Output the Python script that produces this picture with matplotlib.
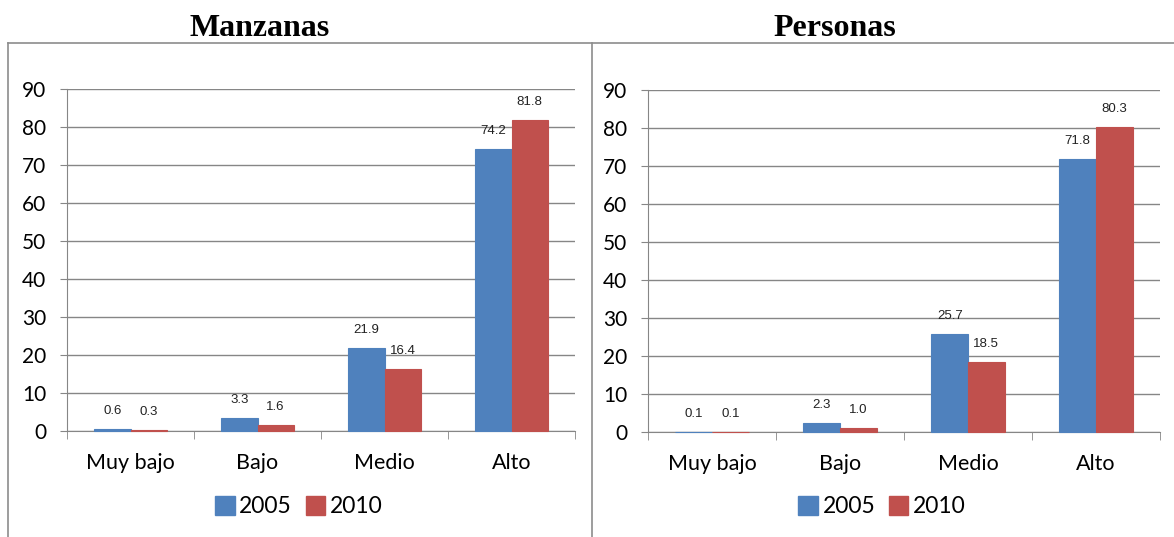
import matplotlib.pyplot as plt
import numpy as np
from matplotlib.lines import Line2D
from matplotlib.patches import Patch

categories = ["Muy bajo", "Bajo", "Medio", "Alto"]
years = ["2005", "2010"]
manzanas_2005 = [0.6, 3.3, 21.9, 74.2]
manzanas_2010 = [0.3, 1.6, 16.4, 81.8]
personas_2005 = [0.1, 2.3, 25.7, 71.8]
personas_2010 = [0.1, 1.0, 18.5, 80.3]
titles = ["Manzanas", "Personas"]

blue = "#4F81BD"
red = "#C0504D"
grid_col = "#868686"
sans = ["Lato", "DejaVu Sans"]

fig = plt.figure(figsize=(11.74, 5.37), dpi=100)

def draw_panel(rect, v05, v10, title, title_x, leg_x):
	ax = fig.add_axes(rect)
	x = np.arange(len(categories))
	w = 1 / 3.5
	b1 = ax.bar(x - w/2, v05, w, color=blue, edgecolor=blue, linewidth=0.8, zorder=3, clip_on=False)
	b2 = ax.bar(x + w/2, v10, w, color=red, edgecolor=red, linewidth=0.8, zorder=3, clip_on=False)
	for bars, vals in [(b1, v05), (b2, v10)]:
		for bar, v in zip(bars, vals):
			ax.annotate(f"{v:.1f}", (bar.get_x() + bar.get_width()/2, v),
				xytext=(0, 13), textcoords="offset points", ha="center", va="center",
				fontsize=9.5, family="Liberation Sans", color="#222222")
	ax.set_xlim(-0.5, 3.5)
	ax.set_ylim(0, 90)
	ax.set_yticks(range(0, 91, 10))
	ax.set_xticks(x)
	ax.set_xticklabels(categories, fontsize=15.5, family=sans)
	ax.set_xticks(np.arange(-0.5, 3.6, 1), minor=True)
	ax.tick_params(axis="x", which="major", length=0, pad=16)
	ax.tick_params(axis="x", which="minor", length=6, color=grid_col)
	ax.tick_params(axis="y", length=5, color=grid_col, pad=10, labelsize=15)
	for lab in ax.get_yticklabels():
		lab.set_family(sans)
	ax.grid(axis="y", color=grid_col, linewidth=1, zorder=0)
	for s in ["top", "right"]:
		ax.spines[s].set_visible(False)
	ax.spines["left"].set_color(grid_col)
	ax.spines["bottom"].set_color(grid_col)
	fig.text(title_x, 0.947, title, ha="center", va="center", fontsize=23,
		family="Liberation Serif", weight="bold")
	handles = [Patch(color=blue), Patch(color=red)]
	fig.legend(handles, years, loc="center", bbox_to_anchor=(leg_x, 0.056),
		ncol=2, frameon=False, handlelength=0.85, handleheight=0.85,
		handletextpad=0.2, columnspacing=0.6, prop={"family": sans, "size": 16.5})

draw_panel([67/1174, 1-431/537, 508/1174, 342/537], manzanas_2005, manzanas_2010,
	titles[0], 260/1174, 299/1174)
draw_panel([648/1174, 1-432/537, 512/1174, 342/537], personas_2005, personas_2010,
	titles[1], 835/1174, 882/1174)

# panel borders
bc = "#8c8c8c"
fig.add_artist(Line2D([8/1174, 1], [1-43/537]*2, color=bc, lw=1.2))
fig.add_artist(Line2D([8/1174]*2, [0, 1-43/537], color=bc, lw=1.2))
fig.add_artist(Line2D([592/1174]*2, [0, 1-43/537], color=bc, lw=1.2))

fig.savefig("out.png", dpi=100)
